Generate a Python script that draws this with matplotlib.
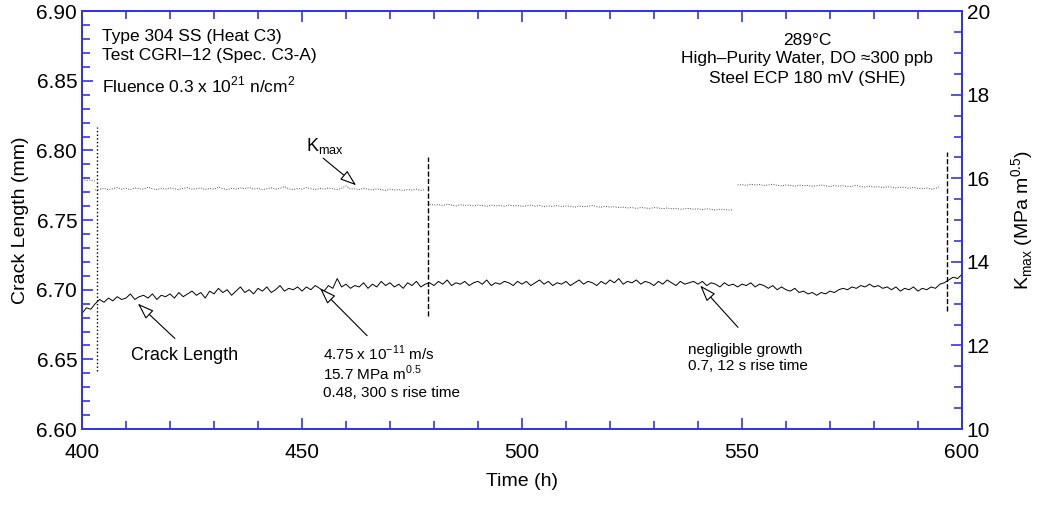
import numpy as np
import matplotlib.pyplot as plt
from matplotlib.ticker import MultipleLocator

plt.rcParams['font.family'] = ['Liberation Sans', 'DejaVu Sans']

# crack length (mm), one reading per hour, 400..600 h
crack_time = np.arange(400, 601, 1)
crack_len = [
    6.683, 6.687, 6.686, 6.690, 6.693, 6.691, 6.694, 6.692, 6.695, 6.693,
    6.694, 6.697, 6.693, 6.695, 6.696, 6.694, 6.697, 6.693, 6.696, 6.695,
    6.697, 6.694, 6.698, 6.695, 6.697, 6.699, 6.696, 6.698, 6.694, 6.699,
    6.697, 6.701, 6.698, 6.700, 6.696, 6.699, 6.702, 6.698, 6.700, 6.697,
    6.701, 6.699, 6.702, 6.698, 6.700, 6.703, 6.699, 6.701, 6.700, 6.702,
    6.699, 6.702, 6.700, 6.703, 6.701, 6.699, 6.703, 6.701, 6.708, 6.702,
    6.704, 6.701, 6.703, 6.702, 6.705, 6.701, 6.704, 6.702, 6.706, 6.703,
    6.705, 6.702, 6.704, 6.701, 6.705, 6.703, 6.706, 6.702, 6.704, 6.705,
    6.703, 6.706, 6.704, 6.707, 6.703, 6.705, 6.704, 6.706, 6.703, 6.705,
    6.706, 6.704, 6.707, 6.703, 6.705, 6.704, 6.706, 6.705, 6.703, 6.706,
    6.704, 6.706, 6.703, 6.705, 6.707, 6.704, 6.706, 6.703, 6.705, 6.704,
    6.706, 6.703, 6.705, 6.707, 6.704, 6.706, 6.705, 6.703, 6.706, 6.704,
    6.707, 6.705, 6.708, 6.704, 6.706, 6.705, 6.707, 6.704, 6.706, 6.705,
    6.703, 6.706, 6.704, 6.707, 6.705, 6.703, 6.706, 6.704, 6.705, 6.706,
    6.704, 6.706, 6.703, 6.705, 6.704, 6.702, 6.705, 6.703, 6.704, 6.702,
    6.704, 6.703, 6.705, 6.702, 6.704, 6.703, 6.701, 6.703, 6.700, 6.702,
    6.700, 6.699, 6.701, 6.698, 6.699, 6.697, 6.698, 6.696, 6.698, 6.697,
    6.699, 6.698, 6.700, 6.701, 6.700, 6.702, 6.701, 6.703, 6.702, 6.704,
    6.702, 6.703, 6.701, 6.702, 6.700, 6.702, 6.699, 6.701, 6.700, 6.702,
    6.699, 6.701, 6.700, 6.702, 6.701, 6.704, 6.705, 6.707, 6.709, 6.708,
    6.711,
]

# Kmax (MPa m^0.5), one reading per hour, four loading periods
k_time_1 = np.arange(400, 404)
k_max_1 = [15.97, 15.95, 15.96, 15.93]

k_time_2 = np.arange(403, 479)
k_max_2 = [
    15.72,
    15.74, 15.76, 15.73, 15.75, 15.78, 15.74, 15.76, 15.73, 15.77, 15.75,
    15.74, 15.79, 15.75, 15.73, 15.76, 15.74, 15.77, 15.75, 15.73, 15.76,
    15.78, 15.74, 15.75, 15.77, 15.73, 15.76, 15.74, 15.79, 15.75, 15.73,
    15.76, 15.74, 15.77, 15.75, 15.78, 15.74, 15.76, 15.73, 15.75, 15.77,
    15.74, 15.76, 15.80, 15.75, 15.73, 15.76, 15.74, 15.78, 15.75, 15.73,
    15.76, 15.74, 15.77, 15.75, 15.73, 15.76, 15.82, 15.74, 15.75, 15.73,
    15.76, 15.74, 15.72, 15.75, 15.73, 15.71, 15.74, 15.72, 15.73, 15.71,
    15.73, 15.72, 15.74, 15.71, 15.73,
]

k_time_3 = np.arange(479, 549)
k_max_3 = [
    15.38, 15.36, 15.37, 15.35, 15.38, 15.36, 15.34, 15.37, 15.35, 15.36,
    15.34, 15.36, 15.35, 15.33, 15.36, 15.34, 15.35, 15.33, 15.36, 15.34,
    15.35, 15.33, 15.34, 15.36, 15.33, 15.35, 15.32, 15.34, 15.33, 15.35,
    15.32, 15.34, 15.33, 15.31, 15.34, 15.32, 15.33, 15.35, 15.32, 15.31,
    15.33, 15.31, 15.32, 15.30, 15.31, 15.29, 15.30, 15.28, 15.30, 15.29,
    15.28, 15.30, 15.29, 15.27, 15.29, 15.27, 15.28, 15.26, 15.27, 15.28,
    15.26, 15.27, 15.25, 15.27, 15.26, 15.24, 15.26, 15.25, 15.24, 15.25,
]

k_time_4 = np.arange(549, 596)
k_max_4 = [
    15.84, 15.85, 15.83, 15.86, 15.84, 15.85, 15.83, 15.84, 15.86, 15.83,
    15.82, 15.84, 15.83, 15.81, 15.84, 15.82, 15.83, 15.81, 15.82, 15.84,
    15.82, 15.80, 15.83, 15.81, 15.82, 15.80, 15.81, 15.83, 15.80, 15.79,
    15.81, 15.79, 15.80, 15.78, 15.80, 15.79, 15.77, 15.79, 15.78, 15.76,
    15.78, 15.76, 15.75, 15.77, 15.74, 15.76, 15.80,
]

# load changes: time, bottom, top (crack length scale), style
changes = [(403.3, 6.642, 6.817, ':'), (478.6, 6.681, 6.795, '--'), (596.6, 6.685, 6.799, '--')]

blue = '#3333ee'

fig = plt.figure(figsize=(10.45, 5.08), dpi=100)
ax = fig.add_axes([0.0785, 0.1555, 0.842, 0.8225])
ax2 = ax.twinx()

ax.plot(crack_time, crack_len, color='black', lw=0.7)
for t, y0, y1, ls in changes:
    ax.plot([t, t], [y0, y1], color='black', lw=1.0, ls=ls)

for kt, kv in [(k_time_1, k_max_1), (k_time_2, k_max_2), (k_time_3, k_max_3), (k_time_4, k_max_4)]:
    ax2.plot(kt, kv, color='0.3', lw=0.7, ls=(0, (1, 1.5)))

ax.set_xlim(400, 600)
ax.set_ylim(6.60, 6.90)
ax2.set_ylim(10, 20)

ax.xaxis.set_major_locator(MultipleLocator(50))
ax.xaxis.set_minor_locator(MultipleLocator(10))
ax.yaxis.set_major_locator(MultipleLocator(0.05))
ax.yaxis.set_minor_locator(MultipleLocator(0.01))
ax2.yaxis.set_major_locator(MultipleLocator(2))
ax2.yaxis.set_minor_locator(MultipleLocator(0.5))
ax.yaxis.set_major_formatter(plt.FormatStrFormatter('%.2f'))

ax.tick_params(axis='x', which='both', direction='in', top=True, color=blue, labelsize=15, pad=10)
ax.tick_params(axis='y', which='both', direction='in', right=False, color=blue, labelsize=15)
ax2.tick_params(axis='y', which='both', direction='in', color=blue, labelsize=15)
for a in (ax, ax2):
    a.tick_params(which='major', length=8, width=1.2)
    a.tick_params(which='minor', length=6, width=1.2)
    for s in a.spines.values():
        s.set_color(blue)
        s.set_linewidth(1.3)

ax.set_xlabel('Time (h)', fontsize=14, labelpad=8)
ax.set_ylabel('Crack Length (mm)', fontsize=14, labelpad=5)
ax2.set_ylabel(r'K$_{\mathregular{max}}$ (MPa m$^{\mathregular{0.5}}$)', fontsize=14, labelpad=14)

# text blocks
ax.text(404.5, 6.882, 'Type 304 SS (Heat C3)', fontsize=12.5, va='center')
ax.text(404.5, 6.868, 'Test CGRI\u201312 (Spec. C3-A)', fontsize=12.5, va='center')
ax.text(404.5, 6.847, r'Fluence 0.3 x 10$^{\mathregular{21}}$ n/cm$^{\mathregular{2}}$', fontsize=12.5, va='center')
ax.text(564.8, 6.879, '289\u00b0C', fontsize=12.5, va='center', ha='center')
ax.text(564.8, 6.866, 'High\u2013Purity Water, DO \u2248300 ppb', fontsize=12.5, va='center', ha='center')
ax.text(564.8, 6.852, 'Steel ECP 180 mV (SHE)', fontsize=12.5, va='center', ha='center')

ax.text(455.2, 6.803, r'K$_{\mathregular{max}}$', fontsize=13, ha='center', va='center')
ax.text(423.4, 6.653, 'Crack Length', fontsize=13, ha='center', va='center')
ax.text(454.8, 6.654, r'4.75 x 10$^{\mathregular{-11}}$ m/s', fontsize=11, va='center')
ax.text(454.8, 6.640, r'15.7 MPa m$^{\mathregular{0.5}}$', fontsize=11, va='center')
ax.text(454.8, 6.626, '0.48, 300 s rise time', fontsize=11, va='center')
ax.text(537.7, 6.657, 'negligible growth', fontsize=11, va='center')
ax.text(537.7, 6.645, '0.7, 12 s rise time', fontsize=11, va='center')

arrows = [
    ((454.8, 6.7945), (462.3, 6.775)),
    ((421.1, 6.665), (412.7, 6.690)),
    ((464.8, 6.667), (454.1, 6.701)),
    ((549.1, 6.673), (540.5, 6.703)),
]
for tail, head in arrows:
    ax.annotate('', xy=head, xytext=tail,
                arrowprops=dict(arrowstyle='-|>,head_length=1.0,head_width=0.35',
                                fc='white', ec='black', lw=0.8, shrinkA=0, shrinkB=0))

fig.savefig('out.png', dpi=100)
